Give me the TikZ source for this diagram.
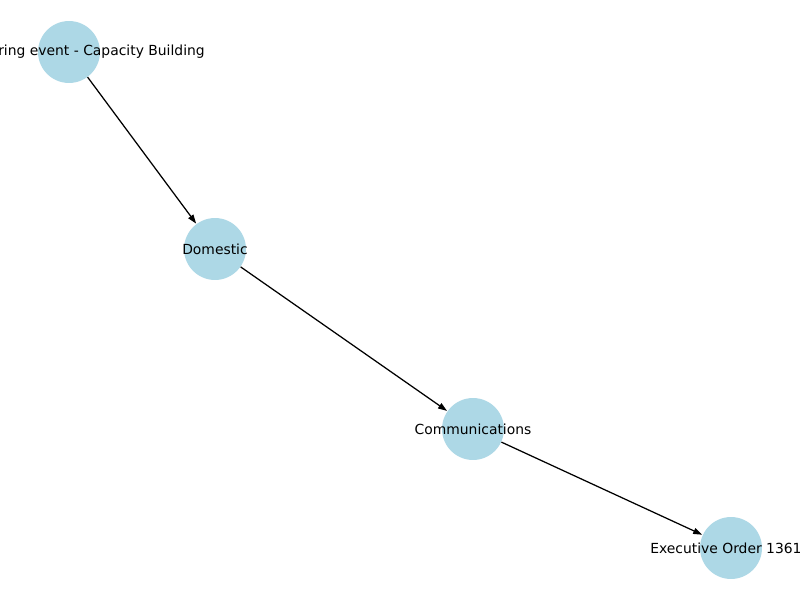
\documentclass[tikz,border=0pt]{standalone}
\usepackage{fontspec}
\setmainfont{DejaVu Sans}
\usetikzlibrary{arrows.meta}
\definecolor{nodeblue}{HTML}{ADD8E6}
\tikzset{
  vert/.style={circle,fill=nodeblue,draw=none,minimum size=44.6pt,inner sep=0pt},
  lbl/.style={inner sep=0pt,font=\fontsize{10}{12}\selectfont,text=black},
  conn/.style={draw=black,line width=0.9pt,-{Triangle[length=6.5pt,width=4.4pt]},shorten >=0.3pt}
}
\begin{document}
\begin{tikzpicture}[x=0.72pt,y=-0.72pt]
\useasboundingbox (0,0) rectangle (800,600);
\clip (0,0) rectangle (800,600);
\fill[white] (0,0) rectangle (800,600);
\node[vert] (n1) at (69,52) {};
\node[vert] (n2) at (215,249) {};
\node[vert] (n3) at (473,429) {};
\node[vert] (n4) at (731,548) {};
\draw[conn] (n1) -- (n2);
\draw[conn] (n2) -- (n3);
\draw[conn] (n3) -- (n4);
\node[lbl,anchor=east] (t1) at (205,52) {ring event - Capacity Building};
\node[lbl] (t2) at (215,249) {Domestic};
\node[lbl] (t3) at (473,429) {Communications};
\node[lbl,anchor=west] (t4) at (650,548) {Executive Order 1361};
\end{tikzpicture}
\end{document}
